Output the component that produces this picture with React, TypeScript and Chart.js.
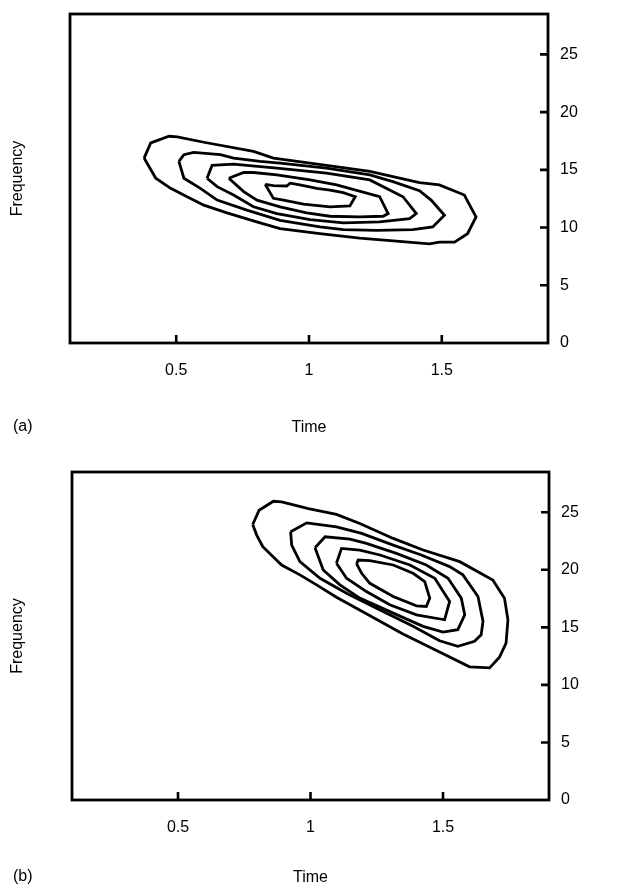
import React, { useEffect, useRef } from "react";
import { Chart, registerables } from "chart.js";

Chart.register(...registerables);

// ---- axes ----
const timeTicks = [0.5, 1, 1.5];
const freqTicks = [0, 5, 10, 15, 20, 25];
const timeMin = 0.1;
const timeMax = 1.9;
const freqMin = 0;
const freqMax = 28.5;

// ---- panel (a): contour levels, [time, frequency] ----
const a1: [number, number][] = [
  [0.379, 16.02], [0.404, 17.33], [0.473, 17.91], [0.504, 17.86], [0.604, 17.39],
  [0.791, 16.6], [0.866, 16.02], [1.066, 15.38], [1.229, 14.86], [1.316, 14.42],
  [1.416, 13.89], [1.491, 13.69], [1.585, 12.82], [1.629, 10.92], [1.597, 9.47],
  [1.548, 8.74], [1.491, 8.74], [1.454, 8.59], [1.329, 8.83], [1.191, 9.09],
  [1.041, 9.47], [0.891, 9.9], [0.816, 10.4], [0.691, 11.27], [0.604, 11.94],
  [0.541, 12.67], [0.479, 13.4], [0.423, 14.27],
];
const a2: [number, number][] = [
  [0.51, 15.73], [0.529, 16.31], [0.566, 16.52], [0.666, 16.31], [0.716, 16.02],
  [0.816, 15.73], [0.891, 15.58], [1.066, 15.15], [1.229, 14.56], [1.316, 13.98],
  [1.416, 13.2], [1.46, 12.38], [1.51, 11.07], [1.466, 10.05], [1.391, 9.82],
  [1.254, 9.76], [1.129, 9.82], [1.041, 10.05], [0.891, 10.63], [0.766, 11.51],
  [0.654, 12.38], [0.591, 13.4], [0.529, 14.27],
];
const a3: [number, number][] = [
  [0.616, 14.27], [0.635, 15.38], [0.716, 15.5], [0.766, 15.38], [0.879, 15.15],
  [1.066, 14.71], [1.229, 14.13], [1.354, 12.67], [1.404, 11.21], [1.379, 10.78],
  [1.266, 10.49], [1.129, 10.4], [1.004, 10.69], [0.879, 11.21], [0.791, 11.8],
  [0.716, 12.82], [0.654, 13.54],
];
const a4: [number, number][] = [
  [0.698, 14.27], [0.754, 14.77], [0.791, 14.77], [0.879, 14.56], [1.004, 14.13],
  [1.104, 13.69], [1.266, 12.67], [1.298, 11.21], [1.279, 10.98], [1.191, 10.92],
  [1.079, 10.98], [0.991, 11.27], [0.891, 11.8], [0.804, 12.38], [0.754, 13.11],
];
const a5: [number, number][] = [
  [0.835, 13.75], [0.866, 13.63], [0.916, 13.6], [0.929, 13.84], [0.966, 13.69],
  [1.029, 13.4], [1.079, 13.25], [1.129, 13.02], [1.174, 12.67], [1.154, 11.88],
  [1.079, 11.8], [0.979, 12.03], [0.904, 12.38], [0.866, 12.53],
];

// ---- panel (b): contour levels, [time, frequency] ----
const b1: [number, number][] = [
  [0.782, 23.94], [0.806, 25.18], [0.86, 25.96], [0.891, 25.9], [0.992, 25.32],
  [1.098, 24.81], [1.186, 24.03], [1.312, 22.73], [1.425, 21.72], [1.563, 20.71],
  [1.688, 19.12], [1.732, 17.54], [1.745, 15.66], [1.738, 13.64], [1.713, 12.4],
  [1.676, 11.48], [1.6, 11.57], [1.487, 12.86], [1.349, 14.42], [1.199, 16.33],
  [1.098, 17.62], [1.023, 18.69], [0.96, 19.56], [0.891, 20.42], [0.82, 22.01],
  [0.797, 23.02],
];
const b2: [number, number][] = [
  [0.925, 23.31], [0.986, 24.08], [1.098, 23.74], [1.193, 23.16], [1.312, 22.15],
  [1.418, 21.29], [1.525, 20.28], [1.575, 19.56], [1.632, 17.68], [1.651, 15.52],
  [1.644, 14.36], [1.619, 13.79], [1.556, 13.35], [1.487, 13.84], [1.387, 15.09],
  [1.249, 16.67], [1.136, 17.97], [1.036, 19.27], [0.96, 20.71], [0.929, 22.15],
];
const b3: [number, number][] = [
  [1.017, 21.92], [1.055, 22.87], [1.149, 22.67], [1.211, 22.3], [1.324, 21.43],
  [1.437, 20.42], [1.519, 19.27], [1.569, 17.54], [1.582, 16.09], [1.556, 14.8],
  [1.5, 14.59], [1.425, 15.09], [1.312, 16.24], [1.186, 17.54], [1.111, 18.69],
  [1.048, 19.99],
];
const b4: [number, number][] = [
  [1.098, 20.57], [1.117, 21.86], [1.186, 21.72], [1.262, 21.29], [1.375, 20.42],
  [1.469, 19.27], [1.525, 17.25], [1.506, 15.66], [1.4, 16.09], [1.299, 16.96],
  [1.211, 18.11], [1.136, 19.27],
];
const b5: [number, number][] = [
  [1.174, 20.51], [1.18, 20.85], [1.224, 20.8], [1.312, 20.42], [1.387, 19.7],
  [1.431, 18.98], [1.45, 17.54], [1.437, 16.82], [1.4, 16.87], [1.312, 17.68],
  [1.224, 18.83], [1.193, 19.7],
];

const panelALevels = [a1, a2, a3, a4, a5];
const panelBLevels = [b1, b2, b3, b4, b5];

const FONT_FAMILY = "'Liberation Sans', Arial, Helvetica, sans-serif";
const FONT_SIZE = 16;
const W = 632;
const H = 446;

type Layout = {
  left: number;
  right: number;
  top: number;
  bottom: number;
  titlePad: number;
  tag: string;
  tagY: number;
};

const framePlugin = {
  id: "frameTicks",
  afterDraw(chart: any, _args: any, opts: any) {
    const { ctx, chartArea } = chart;
    const { left, right, top, bottom } = chartArea;
    const xs = chart.scales.x;
    const ys = chart.scales.y;
    ctx.save();
    ctx.strokeStyle = "#000";
    ctx.lineWidth = 2.8;
    ctx.lineJoin = "miter";
    ctx.strokeRect(left, top, right - left, bottom - top);
    ctx.lineWidth = 2.6;
    ctx.beginPath();
    xs.ticks.forEach((t: any) => {
      const px = xs.getPixelForValue(t.value);
      ctx.moveTo(px, bottom);
      ctx.lineTo(px, bottom - 8);
    });
    ys.ticks.forEach((t: any) => {
      if (t.value === freqMin) return;
      const py = ys.getPixelForValue(t.value);
      ctx.moveTo(right, py);
      ctx.lineTo(right - 8, py);
    });
    ctx.stroke();
    ctx.fillStyle = "#000";
    ctx.font = `${FONT_SIZE}px ${FONT_FAMILY}`;
    ctx.textAlign = "left";
    ctx.textBaseline = "middle";
    ctx.fillText(opts.tag, 13, opts.tagY);
    ctx.restore();
  },
};

function Panel({ levels, layout }: { levels: [number, number][][]; layout: Layout }) {
  const ref = useRef<HTMLCanvasElement | null>(null);
  useEffect(() => {
    if (!ref.current) return;
    const font = { family: FONT_FAMILY, size: FONT_SIZE };
    const noPad = (s: any) => {
      s.paddingTop = 0;
      s.paddingBottom = 0;
      s.paddingLeft = 0;
      s.paddingRight = 0;
    };
    const chart = new Chart(ref.current, {
      type: "scatter",
      data: {
        datasets: levels.map((pts) => ({
          data: [...pts, pts[0]].map(([x, y]) => ({ x, y })),
          showLine: true,
          borderColor: "#000",
          borderWidth: 2.8,
          pointRadius: 0,
          pointHoverRadius: 0,
          tension: 0,
          fill: false,
          xAxisID: "x",
          yAxisID: "y",
        })),
      },
      options: {
        animation: false,
        responsive: false,
        devicePixelRatio: 1,
        layout: { padding: { left: 0, right: 0, top: layout.top, bottom: 0 } },
        plugins: {
          legend: { display: false },
          tooltip: { enabled: false },
          frameTicks: { tag: layout.tag, tagY: layout.tagY },
        } as any,
        scales: {
          x: {
            type: "linear",
            position: "bottom",
            min: timeMin,
            max: timeMax,
            afterBuildTicks: (s: any) => {
              s.ticks = timeTicks.map((v) => ({ value: v }));
            },
            afterFit: (s: any) => {
              s.height = H - layout.bottom;
              noPad(s);
            },
            grid: { display: false, drawTicks: false },
            border: { display: false },
            ticks: {
              padding: 18,
              color: "#000",
              font,
              maxRotation: 0,
              autoSkip: false,
              callback: (v: any) => String(v),
            },
            title: {
              display: true,
              text: "Time",
              color: "#000",
              font,
              padding: { top: 0, bottom: layout.titlePad },
            },
          },
          y: {
            type: "linear",
            position: "right",
            min: freqMin,
            max: freqMax,
            afterBuildTicks: (s: any) => {
              s.ticks = freqTicks.map((v) => ({ value: v }));
            },
            afterFit: (s: any) => {
              s.width = W - layout.right;
              noPad(s);
            },
            grid: { display: false, drawTicks: false },
            border: { display: false },
            ticks: {
              padding: 12,
              color: "#000",
              font,
              autoSkip: false,
              callback: (v: any) => String(v),
            },
          },
          yl: {
            type: "linear",
            position: "left",
            min: freqMin,
            max: freqMax,
            afterFit: (s: any) => {
              s.width = layout.left;
              noPad(s);
            },
            grid: { display: false, drawTicks: false },
            border: { display: false },
            ticks: { display: false },
            title: {
              display: true,
              text: "Frequency",
              color: "#000",
              font,
              padding: { top: 8, bottom: 0 },
            },
          },
        },
      } as any,
      plugins: [framePlugin as any],
    });
    return () => chart.destroy();
  }, [levels, layout]);
  return <canvas ref={ref} width={W} height={H} style={{ display: "block", width: W, height: H }} />;
}

const layoutA: Layout = { left: 70, right: 548, top: 14, bottom: 343, titlePad: 9, tag: "(a)", tagY: 427 };
const layoutB: Layout = { left: 72, right: 549, top: 26, bottom: 354, titlePad: 5, tag: "(b)", tagY: 431 };

export default function App() {
  return (
    <div style={{ position: "absolute", left: 0, top: 0, width: W, height: 892, background: "#fff" }}>
      <Panel levels={panelALevels} layout={layoutA} />
      <Panel levels={panelBLevels} layout={layoutB} />
    </div>
  );
}
